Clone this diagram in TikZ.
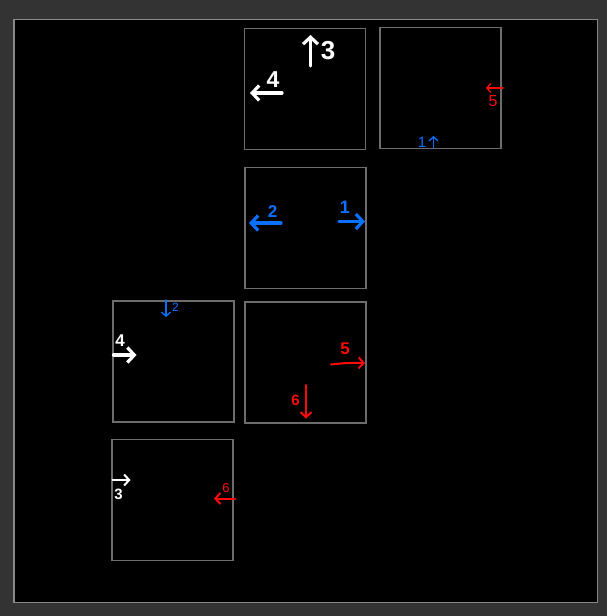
\documentclass[tikz,border=0pt]{standalone}
\usepackage{fontspec}
\setmainfont{Liberation Sans}
\usetikzlibrary{arrows.meta}
\definecolor{bggray}{HTML}{333333}
\definecolor{framegray}{HTML}{888888}
\definecolor{cellgray}{HTML}{6C6C6C}
\definecolor{penblue}{HTML}{0A70FF}
\definecolor{penred}{HTML}{FF0A0A}
\tikzset{
  cell/.style={draw=cellgray, line width=1.5pt, minimum width=121pt, minimum height=121pt, inner sep=0pt},
  bigpen/.style={line width=3.2pt, line cap=round, -{Straight Barb[length=7pt,width=15pt,line width=3.2pt]}},
  midpen/.style={line width=2pt, line cap=round, -{Straight Barb[length=5pt,width=11pt,line width=2pt]}},
  thinpen/.style={line width=1.3pt, line cap=round, -{Straight Barb[length=4pt,width=9pt,line width=1.3pt]}},
  lab/.style={inner sep=0pt},
}
\begin{document}
\begin{tikzpicture}[x=1pt,y=-1pt]
\useasboundingbox (0,0) rectangle (607,616);
\fill[bggray] (0,0) rectangle (607,616);
\draw[framegray, fill=black, line width=1.2pt] (14,19.5) rectangle (597.5,602.5);

% cells
\node[cell] (A) at (305,89) {};
\node[cell] (B) at (440.5,88) {};
\node[cell] (C) at (305.5,228) {};
\node[cell] (D) at (173.5,361.5) {};
\node[cell] (E) at (305.5,362.5) {};
\node[cell] (F) at (172.5,500) {};

% cell A
\coordinate (a3s) at (310.5,66);
\coordinate (a3e) at (310.5,35);
\draw[white, bigpen] (a3s) -- (a3e);
\node[lab, white, font=\fontsize{26}{26}\selectfont\bfseries] (a3) at (328,51) {3};
\coordinate (a4s) at (282,93);
\coordinate (a4e) at (250,93);
\draw[white, bigpen] (a4s) -- (a4e);
\node[lab, white, font=\fontsize{23}{23}\selectfont\bfseries] (a4) at (273,80) {4};

% cell B
\coordinate (b5s) at (503,88);
\coordinate (b5e) at (486,88);
\draw[penred, thinpen] (b5s) -- (b5e);
\node[lab, penred, font=\fontsize{16}{16}\selectfont] (b5) at (493,101.5) {5};
\coordinate (b1s) at (433.5,148);
\coordinate (b1e) at (433.5,136);
\draw[penblue, thinpen] (b1s) -- (b1e);
\node[lab, penblue, font=\fontsize{15}{15}\selectfont] (b1) at (422,142) {1};

% cell C
\coordinate (c2s) at (281,223);
\coordinate (c2e) at (249,223);
\draw[penblue, bigpen] (c2s) -- (c2e);
\node[lab, penblue, font=\fontsize{17}{17}\selectfont\bfseries] (c2) at (272.5,212) {2};
\coordinate (c1s) at (339,221.5);
\coordinate (c1e) at (365,221.5);
\draw[penblue, bigpen] (c1s) -- (c1e);
\node[lab, penblue, font=\fontsize{18}{18}\selectfont\bfseries] (c1) at (345,207) {1};

% cell D
\coordinate (d2s) at (166,300);
\coordinate (d2e) at (166,317);
\draw[penblue, thinpen] (d2s) -- (d2e);
\node[lab, penblue, font=\fontsize{12}{12}\selectfont] (d2) at (175.5,307) {2};
\coordinate (d4s) at (113.5,355);
\coordinate (d4e) at (136.5,355);
\draw[white, bigpen] (d4s) -- (d4e);
\node[lab, white, font=\fontsize{17}{17}\selectfont\bfseries] (d4) at (120,340.5) {4};

% cell E
\coordinate (e5s) at (331,364.5);
\coordinate (e5e) at (365,363);
\draw[penred, midpen] (e5s) to[bend left=4] (e5e);
\node[lab, penred, font=\fontsize{17}{17}\selectfont\bfseries] (e5) at (345,349) {5};
\coordinate (e6s) at (306,385);
\coordinate (e6e) at (306,418.5);
\draw[penred, midpen] (e6s) -- (e6e);
\node[lab, penred, font=\fontsize{15}{15}\selectfont\bfseries] (e6) at (295.5,400) {6};

% cell F
\coordinate (f3s) at (112.5,480);
\coordinate (f3e) at (130.5,480);
\draw[white, midpen] (f3s) -- (f3e);
\node[lab, white, font=\fontsize{15}{15}\selectfont\bfseries] (f3) at (118.5,494.5) {3};
\coordinate (f6s) at (235,498.5);
\coordinate (f6e) at (214,498.5);
\draw[penred, midpen] (f6s) -- (f6e);
\node[lab, penred, font=\fontsize{13}{13}\selectfont] (f6) at (226,488) {6};
\end{tikzpicture}
\end{document}
